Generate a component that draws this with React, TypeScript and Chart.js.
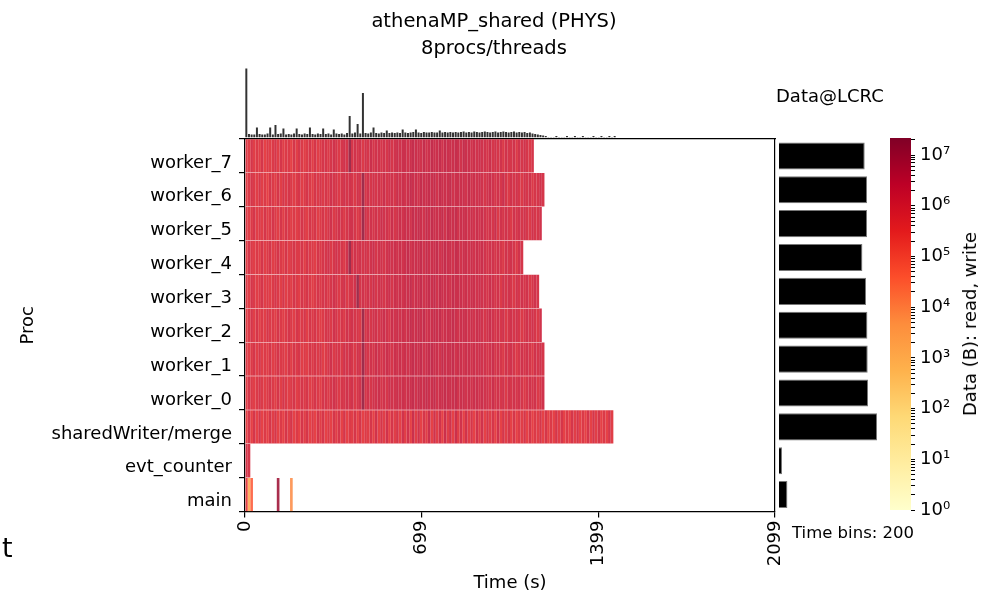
import React, { useEffect, useRef } from 'react';
import { Chart, registerables } from 'chart.js';

Chart.register(...registerables);

const FONT = 'DejaVu Sans';

// ---------------- data ----------------
const ROWS = [
  'worker_7', 'worker_6', 'worker_5', 'worker_4', 'worker_3', 'worker_2',
  'worker_1', 'worker_0', 'sharedWriter/merge', 'evt_counter', 'main',
];
const T_MAX = 2099;
const N_BINS = 200;
const X_TICKS = [0, 699, 1399, 2099];

// one char per time bin: '0'..'9' -> log10(bytes) via LEVEL_LOG10, 'D' -> DARK_LOG10
const LEVEL_LOG10 = [5.3, 5.45, 5.6, 5.75, 5.9, 6.05, 6.2, 6.35, 6.5, 6.65];
const DARK_LOG10 = 7.2;

const W7 = '4353435243' + '4535344253' + '5434535345' + '545654565D' + '5656465756' + '6565756767' +
  '7678776867' + '8778687778' + '7687767676' + '6575656465' + '564656545';
const W6 = '3454353425' + '4353545434' + '5345435454' + '5465545656' + '5465D56565' + '6575665767' +
  '6787768778' + '7868777867' + '7776867676' + '5676565754' + '6565465645' + '565';
const W5 = '4345343534' + '5435354343' + '4543545345' + '4564565456' + '6545D65656' + '5766575676' +
  '7768787687' + '8777868778' + '6777676767' + '6565746565' + '4656565465' + '56';
const W4 = '3543435345' + '3454353454' + '4535443545' + '564565546D' + '5656565675' + '6656767676' +
  '7867778687' + '7786787768' + '7677676767' + '6566565465' + '65465';
const W3 = '4354345343' + '4543534354' + '3545434545' + '5456545645' + '56D5656575' + '6656757676' +
  '7786778678' + '7868777687' + '7767677676' + '6576564656' + '5465656456' + '5';
const W2 = '3453534354' + '4354345435' + '4453545434' + '5546545465' + '6554D56566' + '5676576767' +
  '6787787867' + '7878677787' + '6777676776' + '5676565645' + '6565456565' + '46';
const W1 = '4345353435' + '3454435354' + '5343545453' + '4564554656' + '5465D65657' + '6567657676' +
  '7678778678' + '8776877786' + '7767767676' + '6567565465' + '6545656546' + '565';
const W0 = '3543454345' + '4353543453' + '4545345435' + '5456545565' + '6456D56566' + '7565766767' +
  '6778687787' + '7867787778' + '6776767767' + '6657565646' + '5656545656' + '456';
const WRITER = '2525252425' + '3524253524' + '2535242535' + '2425352524' + '3525243526' + '2536253526' +
  '3627362537' + '2636273627' + '3626352636' + '2535262535' + '2524352524' + '3525242535' +
  '2425352425' + '253524253';
const EVT = '55';
const MAIN_BINS = [0, 1, 2, 12, 17];
const MAIN_LOG10 = [5.6, 3.2, 4.6, 7.0, 3.8];

// top marginal histogram: summed data per time bin (arbitrary linear units)
const HIST_TOP = [
  69, 3.5, 3, 3, 10, 3.5, 3, 3, 4, 10,
  3, 12.5, 3.5, 4, 9, 3, 3.5, 3, 4, 9,
  3.5, 3, 4, 3.5, 10, 3.5, 3, 4, 3.5, 9,
  3.5, 4, 3, 8, 4, 3.5, 4, 3, 4.5, 21.5,
  4, 5, 13.5, 4, 44.5, 4.5, 4, 5, 10, 4.5,
  4, 5, 4.5, 7, 4.5, 5, 4.5, 5, 4.5, 8,
  5, 4.5, 5, 5.5, 8, 5, 4.5, 5.5, 5, 5,
  5.5, 5, 5, 7, 5, 5.5, 5, 5.5, 5, 5.5,
  5, 5.5, 6, 5, 5.5, 5, 6, 5.5, 5, 5.5,
  6, 5.5, 5, 5.5, 6, 5, 5.5, 6, 5.5, 5,
  5.5, 6, 5, 5.5, 5, 5.5, 4.5, 5, 4, 3.5,
  3, 2.5, 2, 1.5, 0.5, 0.5, 0.5, 1.5, 0.5, 0.5,
  0.5, 1.5, 0.5, 0.5, 1.5, 0.5, 0.5, 1.5, 0.5, 0.5,
  0.5, 1.5, 0.5, 0.5, 1.5, 0.5, 0.5, 1.5, 0.5, 1.5,
];
const HIST_MAX = 71;

// right marginal: total data per process (MB)
const ROW_TOTALS = [857, 880, 880, 834, 870, 884, 887, 890, 980, 30, 84];
const TOTALS_MAX = 1020;

const CB_MAX = 2.17e7;
const SUP = ['⁰', '¹', '²', '³', '⁴', '⁵', '⁶', '⁷', '⁸'];

// YlOrRd colormap
const YLORRD = ['#ffffcc', '#ffeda0', '#fed976', '#feb24c', '#fd8d3c', '#fc4e2a', '#e31a1c', '#bd0026', '#800026'];

// ---------------- helpers ----------------
function hex(c: string) {
  return [parseInt(c.slice(1, 3), 16), parseInt(c.slice(3, 5), 16), parseInt(c.slice(5, 7), 16)];
}
function cmap(f: number, alpha = 1) {
  const ff = Math.max(0, Math.min(1, f));
  const p = ff * (YLORRD.length - 1);
  const i = Math.min(YLORRD.length - 2, Math.floor(p));
  const t = p - i;
  const a = hex(YLORRD[i]);
  const b = hex(YLORRD[i + 1]);
  const c = a.map((v, k) => Math.round(v + (b[k] - v) * t));
  return `rgba(${c[0]},${c[1]},${c[2]},${alpha})`;
}
const LOG_MAX = Math.log10(CB_MAX);
const BIN_W = T_MAX / N_BINS;

function parseRow(s: string): Map<number, number> {
  const m = new Map<number, number>();
  for (let i = 0; i < s.length; i++) {
    const ch = s[i];
    m.set(i, ch === 'D' ? DARK_LOG10 : LEVEL_LOG10[Number(ch)]);
  }
  return m;
}

const ROW_CELLS: Map<number, number>[] = [W7, W6, W5, W4, W3, W2, W1, W0, WRITER, EVT].map(parseRow);
ROW_CELLS.push(new Map(MAIN_BINS.map((b, i) => [b, MAIN_LOG10[i]] as [number, number])));

const CB_TICKS: number[] = [];
for (let d = 0; d <= 7; d++) {
  for (let m = 1; m <= 9; m++) {
    const v = m * Math.pow(10, d);
    if (v <= CB_MAX) CB_TICKS.push(v);
  }
}

const W = 988;
const H = 595;
// plot geometry
const AREA_L = 245;
const AREA_R = 775;
const AREA_T = 139;
const AREA_B = 511.5;

function baseOpts(extra: any) {
  return {
    responsive: false,
    animation: false,
    events: [],
    plugins: { legend: { display: false }, tooltip: { enabled: false }, title: { display: false } },
    ...extra,
  };
}

export default function App() {
  const mainRef = useRef<HTMLCanvasElement>(null);
  const topRef = useRef<HTMLCanvasElement>(null);
  const rightRef = useRef<HTMLCanvasElement>(null);
  const cbRef = useRef<HTMLCanvasElement>(null);

  useEffect(() => {
    Chart.defaults.font.family = FONT;
    Chart.defaults.color = '#000';
    const charts: Chart[] = [];
    const font18 = { family: FONT, size: 18 };

    // ---- heatmap ----
    let maxBin = 0;
    ROW_CELLS.forEach((m) => m.forEach((_, b) => { if (b > maxBin) maxBin = b; }));
    const datasets: any[] = [];
    for (let b = 0; b <= maxBin; b++) {
      datasets.push({
        label: 'bin ' + b,
        data: ROW_CELLS.map((m) => (m.has(b) ? [b * BIN_W, (b + 1) * BIN_W] : null)),
        backgroundColor: ROW_CELLS.map((m) => (m.has(b) ? cmap((m.get(b) as number) / LOG_MAX, 0.82) : 'rgba(0,0,0,0)')),
        borderWidth: 0,
        grouped: false,
        barPercentage: 1,
        categoryPercentage: 0.985,
      });
    }
    charts.push(new Chart(mainRef.current!, {
      type: 'bar',
      data: { labels: ROWS, datasets },
      options: baseOpts({
        indexAxis: 'y',
        layout: { padding: { left: 0, top: AREA_T, right: W - AREA_R, bottom: 0 } },
        scales: {
          x: {
            type: 'linear', position: 'bottom', min: 0, max: T_MAX, offset: false,
            afterBuildTicks: (s: any) => { s.ticks = X_TICKS.map((v) => ({ value: v })); },
            afterFit: (s: any) => { s.height = H - AREA_B; },
            ticks: { autoSkip: false, minRotation: 90, maxRotation: 90, font: font18, color: '#000', padding: 3,
              callback: (v: any) => String(v) },
            grid: { drawOnChartArea: false, drawTicks: true, tickLength: 6, color: '#000', lineWidth: 1.2 },
            border: { display: true, color: '#000', width: 1.2 },
            title: { display: true, text: 'Time (s)', font: font18, color: '#000', padding: { top: 0, bottom: 1 } },
          },
          y: {
            type: 'category', position: 'left', offset: true,
            afterFit: (s: any) => { s.width = AREA_L; },
            ticks: { autoSkip: false, font: font18, color: '#000', padding: 7, labelOffset: 7 },
            grid: { offset: true, drawOnChartArea: false, drawTicks: true, tickLength: 6, color: '#000', lineWidth: 1.2 },
            border: { display: true, color: '#000', width: 1.2 },
            title: { display: true, text: 'Proc', font: font18, color: '#000', padding: { top: 18, bottom: 0 } },
          },
          x2: {
            type: 'linear', position: 'top', min: 0, max: 1,
            afterFit: (s: any) => { s.height = 0; },
            ticks: { display: false },
            grid: { display: false, drawTicks: false },
            border: { display: true, color: '#000', width: 1.2 },
          },
          y2: {
            type: 'linear', position: 'right', min: 0, max: 1,
            afterFit: (s: any) => { s.width = 0; },
            ticks: { display: false },
            grid: { display: false, drawTicks: false },
            border: { display: true, color: '#000', width: 1.2 },
          },
        },
      }),
    } as any));

    // ---- top histogram ----
    charts.push(new Chart(topRef.current!, {
      type: 'bar',
      data: {
        datasets: [{
          data: HIST_TOP.map((v, i) => ({ x: (i + 0.5) * BIN_W, y: v })),
          backgroundColor: '#333333',
          borderWidth: 0,
          barPercentage: 0.75,
          categoryPercentage: 1,
        }],
      },
      options: baseOpts({
        layout: { padding: { left: AREA_L, right: W - AREA_R, top: 66.5, bottom: 140 - 137.5 } },
        scales: {
          x: { type: 'linear', min: 0, max: T_MAX, display: false, offset: false },
          y: { type: 'linear', min: 0, max: HIST_MAX, display: false },
        },
      }),
    } as any));

    // ---- right totals ----
    charts.push(new Chart(rightRef.current!, {
      type: 'bar',
      data: {
        labels: ROWS,
        datasets: [{
          data: ROW_TOTALS,
          backgroundColor: '#000000',
          borderColor: '#777777',
          borderWidth: 1,
          barPercentage: 0.8,
          categoryPercentage: 1,
        }],
      },
      options: baseOpts({
        indexAxis: 'y',
        layout: { padding: { left: 779, right: W - 881, top: AREA_T, bottom: H - AREA_B } },
        scales: {
          x: { type: 'linear', min: 0, max: TOTALS_MAX, display: false },
          y: { type: 'category', display: false, offset: true },
        },
      }),
    } as any));

    // ---- colorbar ----
    charts.push(new Chart(cbRef.current!, {
      type: 'bar',
      data: {
        labels: ['cb'],
        datasets: [{
          data: [[1, CB_MAX]],
          backgroundColor: (ctx: any) => {
            const a = ctx.chart.chartArea;
            if (!a) return '#ffffff';
            const g = ctx.chart.ctx.createLinearGradient(0, a.bottom, 0, a.top);
            YLORRD.forEach((c, i) => g.addColorStop(i / (YLORRD.length - 1), c));
            return g;
          },
          borderWidth: 0,
          barPercentage: 1,
          categoryPercentage: 1,
        }],
      },
      options: baseOpts({
        layout: { padding: { left: 890, right: 0, top: 138, bottom: H - 510 } },
        scales: {
          x: { type: 'category', display: false },
          y: {
            type: 'logarithmic', position: 'right', min: 1, max: CB_MAX,
            afterBuildTicks: (s: any) => { s.ticks = CB_TICKS.map((v) => ({ value: v })); },
            afterFit: (s: any) => { s.width = W - 911; },
            ticks: {
              autoSkip: false, font: font18, color: '#000', padding: 5,
              callback: (v: any) => {
                const e = Math.log10(Number(v));
                return Math.abs(e - Math.round(e)) < 1e-9 ? '10' + SUP[Math.round(e)] : '';
              },
            },
            grid: { drawOnChartArea: false, drawTicks: true, tickLength: 4, color: '#000', lineWidth: 1 },
            border: { display: false },
          },
        },
      }),
    } as any));

    return () => { charts.forEach((c) => c.destroy()); };
  }, []);

  const abs: React.CSSProperties = { position: 'absolute', left: 0, top: 0 };
  const txt: React.CSSProperties = { position: 'absolute', fontFamily: FONT, color: '#000', whiteSpace: 'nowrap' };

  return (
    <div style={{ position: 'fixed', left: 0, top: 0, width: W, height: H, background: '#fff', overflow: 'hidden' }}>
      <canvas ref={mainRef} width={W} height={H} style={abs} />
      <canvas ref={topRef} width={W} height={140} style={abs} />
      <canvas ref={rightRef} width={W} height={H} style={abs} />
      <canvas ref={cbRef} width={W} height={H} style={abs} />
      <div style={{ ...txt, left: 0, width: W, top: 6.75, textAlign: 'center', fontSize: 19.5, lineHeight: '27px' }}>
        athenaMP_shared (PHYS)<br />8procs/threads
      </div>
      <div style={{ ...txt, left: 776, top: 87, fontSize: 18, lineHeight: '18px' }}>Data@LCRC</div>
      <div style={{ ...txt, left: 792, top: 525, fontSize: 16.5, lineHeight: '16.5px' }}>Time bins: 200</div>
      <div style={{ ...txt, left: 2, top: 534, fontSize: 27, lineHeight: '27px' }}>t</div>
      <div style={{ ...txt, left: 970, top: 324, fontSize: 18, lineHeight: '18px', transform: 'translate(-50%, -50%) rotate(-90deg)' }}>
        Data (B): read, write
      </div>
    </div>
  );
}
